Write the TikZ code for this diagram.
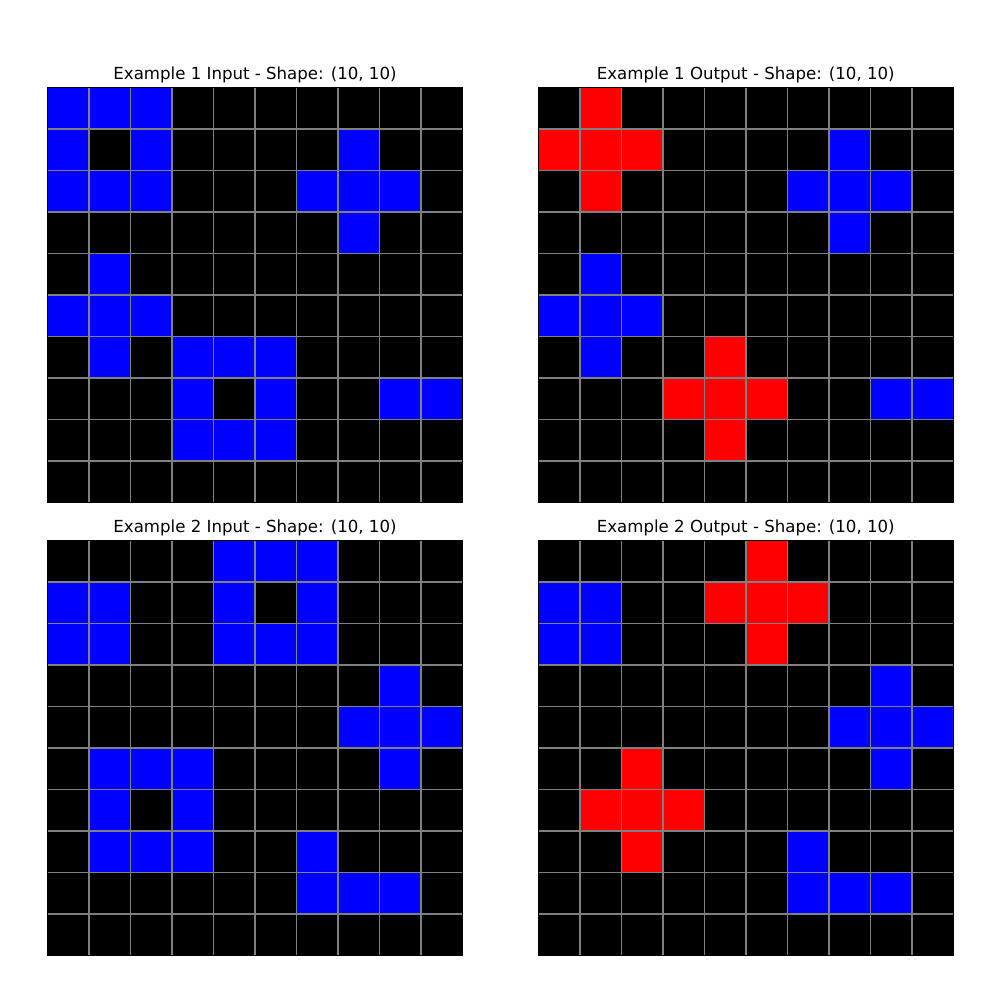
\documentclass[tikz,border=0pt]{standalone}
\usepackage{fontspec}
\setmainfont{DejaVu Sans}
\definecolor{blu}{RGB}{0,0,255}
\definecolor{rd}{RGB}{255,0,0}
\definecolor{gridgray}{RGB}{128,128,128}

% one 10x10 panel: #1 origin, #2 coloured cells as row/col/colour
\newcommand{\arcpanel}[2]{%
  \begin{scope}[shift={#1}, scale=41.54]
    \fill[black] (0,0) rectangle (10,10);
    \foreach \r/\c/\col in {#2}
      \fill[\col] (\c,\r) rectangle ++(1,1);
    \foreach \i in {1,...,9} {
      \draw[gridline] (\i,0) -- (\i,10);
      \draw[gridline] (0,\i) -- (10,\i);
    }
    \draw[frame] (0,0) rectangle (10,10);
  \end{scope}}

\begin{document}
\begin{tikzpicture}[
  x=0.254mm, y=-0.254mm,
  gridline/.style={gridgray, line width=1pt},
  frame/.style={black, line width=0.8pt},
  title/.style={anchor=base, inner sep=0pt, font=\fontsize{12}{14}\selectfont}
]
\useasboundingbox[fill=white] (0,0) rectangle (1000,1000);

% example 1 input
\arcpanel{(47.3,87.3)}{0/0/blu,0/1/blu,0/2/blu,1/0/blu,1/2/blu,1/7/blu,
  2/0/blu,2/1/blu,2/2/blu,2/6/blu,2/7/blu,2/8/blu,3/7/blu,4/1/blu,
  5/0/blu,5/1/blu,5/2/blu,6/1/blu,6/3/blu,6/4/blu,6/5/blu,
  7/3/blu,7/5/blu,7/8/blu,7/9/blu,8/3/blu,8/4/blu,8/5/blu}
\node[title] (in1) at (255,79) {Example 1 Input - Shape: (10, 10)};

% example 1 output
\arcpanel{(538.3,87.3)}{0/1/rd,1/0/rd,1/1/rd,1/2/rd,2/1/rd,
  6/4/rd,7/3/rd,7/4/rd,7/5/rd,8/4/rd,
  1/7/blu,2/6/blu,2/7/blu,2/8/blu,3/7/blu,4/1/blu,
  5/0/blu,5/1/blu,5/2/blu,6/1/blu,7/8/blu,7/9/blu}
\node[title] (out1) at (745.8,79) {Example 1 Output - Shape: (10, 10)};

% example 2 input
\arcpanel{(47.3,540.3)}{0/4/blu,0/5/blu,0/6/blu,1/0/blu,1/1/blu,1/4/blu,1/6/blu,
  2/0/blu,2/1/blu,2/4/blu,2/5/blu,2/6/blu,3/8/blu,4/7/blu,4/8/blu,4/9/blu,
  5/1/blu,5/2/blu,5/3/blu,5/8/blu,6/1/blu,6/3/blu,
  7/1/blu,7/2/blu,7/3/blu,7/6/blu,8/6/blu,8/7/blu,8/8/blu}
\node[title] (in2) at (255,532) {Example 2 Input - Shape: (10, 10)};

% example 2 output
\arcpanel{(538.3,540.3)}{0/5/rd,1/4/rd,1/5/rd,1/6/rd,2/5/rd,
  5/2/rd,6/1/rd,6/2/rd,6/3/rd,7/2/rd,
  1/0/blu,1/1/blu,2/0/blu,2/1/blu,3/8/blu,4/7/blu,4/8/blu,4/9/blu,
  5/8/blu,7/6/blu,8/6/blu,8/7/blu,8/8/blu}
\node[title] (out2) at (745.8,532) {Example 2 Output - Shape: (10, 10)};
\end{tikzpicture}
\end{document}
